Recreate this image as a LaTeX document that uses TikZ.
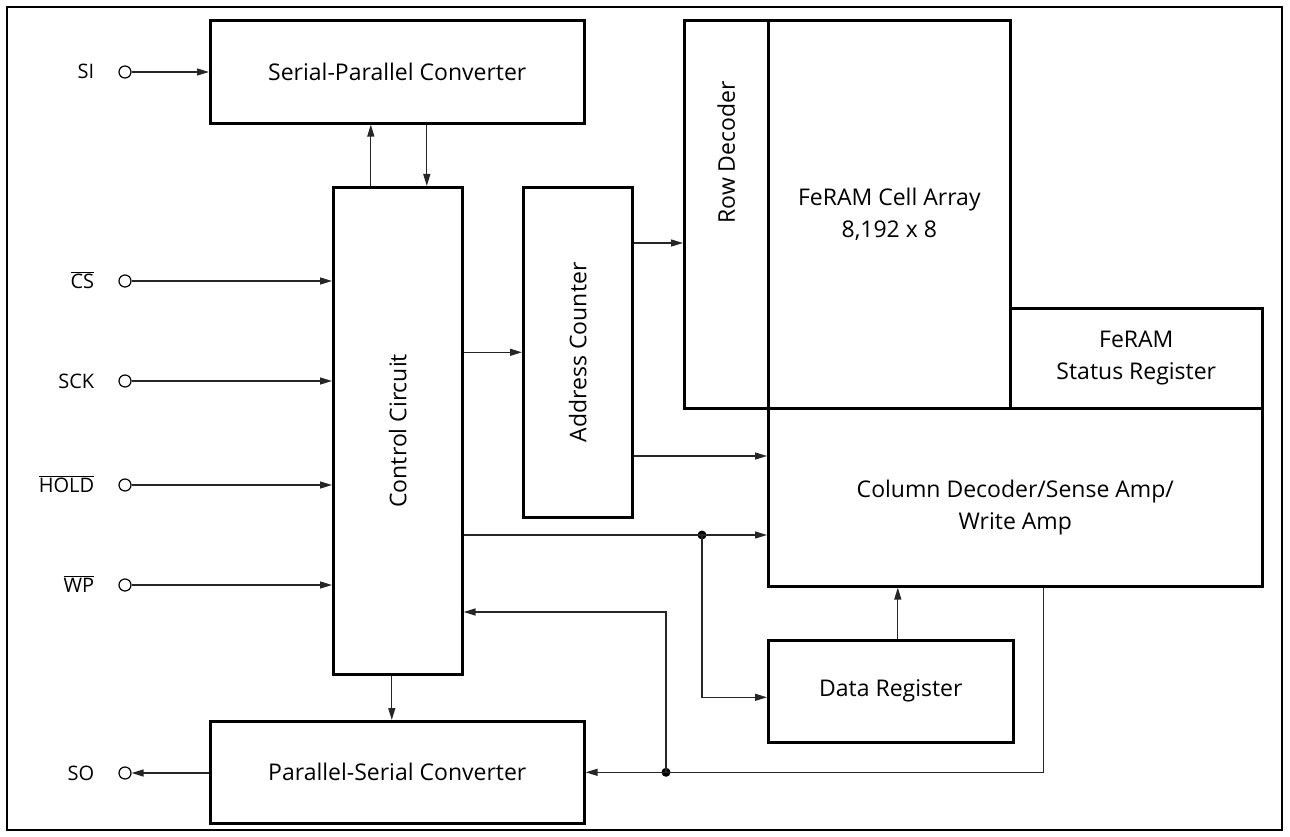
\documentclass[tikz,border=0pt]{standalone}
\usepackage{fontspec}
\setmainfont{Open Sans}
\usetikzlibrary{arrows.meta, positioning}

\tikzset{
  blk/.style={draw, line width=2.6pt, inner sep=0pt, anchor=north west, align=center},
  sig/.style={line width=1.3pt, draw=black!85, -{Triangle[length=12pt, width=7pt]}},
  pin/.style={circle, draw, line width=1.2pt, minimum size=12pt, inner sep=0pt},
  pinlbl/.style={inner sep=0pt, text height=14pt, text depth=0pt, font=\fontsize{20}{24}\selectfont},
  dot/.style={circle, fill, minimum size=9pt, inner sep=0pt},
}

\begin{document}
\begin{tikzpicture}[x=1pt, y=-1pt, font=\fontsize{23}{32}\selectfont]
    \useasboundingbox (0,0) rectangle (1290,837);
    % Frame
    \draw[line width=1.6pt] (7,7) rectangle (1282,830);

    % Blocks
    \node[blk, minimum width=374pt, minimum height=103pt] (spc) at (209,19) {Serial-Parallel Converter};
    \node[blk, minimum width=129pt, minimum height=487pt] (cc) at (332,186) {};
    \node[rotate=90] at (cc) {Control Circuit};
    \node[blk, minimum width=109pt, minimum height=330pt] (ac) at (522,186) {};
    \node[rotate=90] at (ac) {Address Counter};
    \node[blk, minimum width=84pt, minimum height=388pt] (rd) at (683,19) {};
    \node[rotate=90] at ([yshift=62pt]rd.center) {Row Decoder};
    \node[blk, minimum width=242pt, minimum height=388pt] (fca) at (767,19) {FeRAM Cell Array\\8,192 x 8};
    \node[blk, minimum width=252pt, minimum height=100pt] (fsr) at (1009,307) {FeRAM\\Status Register};
    \node[blk, minimum width=494pt, minimum height=178pt] (col) at (767,407) {};
    \node[align=center] at ([yshift=-10pt]col.center) {Column Decoder/Sense Amp/\\Write Amp};
    \node[blk, minimum width=245pt, minimum height=102pt] (dr) at (767,639) {Data Register};
    \node[blk, minimum width=374pt, minimum height=102pt] (psc) at (209,720) {Parallel-Serial Converter};

    % Pins
    \node[pin] (si) at (125,72) {};
    \node[pin] (cs) at (125,281) {};
    \node[pin] (sck) at (125,381) {};
    \node[pin] (hold) at (125,485) {};
    \node[pin] (wp) at (125,585) {};
    \node[pin] (so) at (125,773) {};
    \node[pinlbl, left=24pt of si] {SI};
    \node[pinlbl, left=24pt of cs] {$\overline{\mbox{CS}}$};
    \node[pinlbl, left=24pt of sck] {SCK};
    \node[pinlbl, left=24pt of hold] {$\overline{\mbox{HOLD}}$};
    \node[pinlbl, left=24pt of wp] {$\overline{\mbox{WP}}$};
    \node[pinlbl, left=24pt of so] {SO};

    % Levels of the wires
    \coordinate (yrow) at (0,243);
    \coordinate (ycol) at (0,456);
    \coordinate (ybus) at (0,535);
    \coordinate (yfb) at (0,612);
    \node[dot] (j1) at (702,535) {};
    \node[dot] (j2) at (666,0 |- psc.east) {};

    % Inputs and output
    \draw[sig] (si) -- (spc.west |- si);
    \foreach \p in {cs,sck,hold,wp}
        \draw[sig] (\p) -- (cc.west |- \p);
    \draw[sig] (so -| psc.west) -- (so);

    % Control and converters
    \draw[sig] ([xshift=-27pt]cc.north) -- ([xshift=-27pt]cc.north |- spc.south);
    \draw[sig] ([xshift=29pt]cc.north |- spc.south) -- ([xshift=29pt]cc.north);
    \draw[sig] ([xshift=-6pt]cc.south) -- ([xshift=-6pt]cc.south |- psc.north);

    % Address path
    \draw[sig] (cc.east |- ac.west) -- (ac.west);
    \draw[sig] (ac.east |- yrow) -- (rd.west |- yrow);
    \draw[sig] (ac.east |- ycol) -- (col.west |- ycol);

    % Data path
    \draw[sig] (cc.east |- ybus) -- (col.west |- ybus);
    \draw[sig] (j1.center) |- ([yshift=-6pt]dr.west);
    \draw[sig] ([xshift=7pt]dr.north) -- ([xshift=7pt]dr.north |- col.south);
    \draw[sig] ([xshift=28pt]col.south) |- (psc.east);
    \draw[sig] (j2.center) |- (cc.east |- yfb);
\end{tikzpicture}
\end{document}
